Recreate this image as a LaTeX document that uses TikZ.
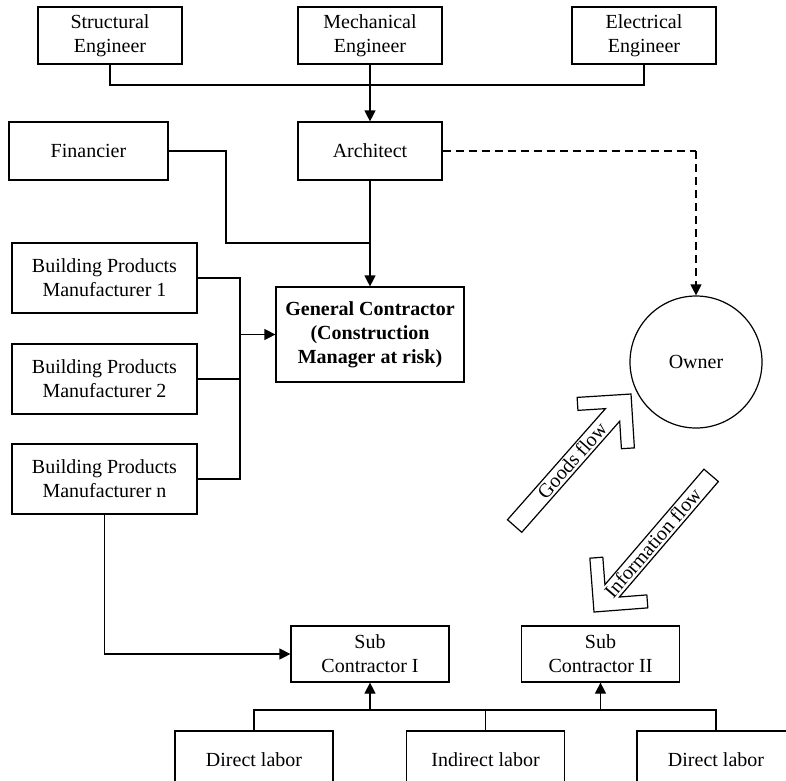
\documentclass[tikz,border=0pt]{standalone}
\usepackage{fontspec}
\setmainfont{Liberation Serif}
\usetikzlibrary{arrows.meta}
\begin{document}
\begin{tikzpicture}[x=1pt,y=-1pt,
  box/.style={draw, line width=1.2pt, inner sep=0pt, align=center, font=\fontsize{20}{24}\selectfont},
  arr/.style={line width=1.2pt, -{Triangle[length=11pt,width=11pt]}},
  ln/.style={line width=1.2pt},
  dsh/.style={line width=1.2pt, dash pattern=on 8pt off 5pt},
  blockarrow/.style={draw, line width=1.2pt, line join=miter},
  flowtext/.style={inner sep=0pt, font=\fontsize{20}{24}\selectfont, text height=13pt, text depth=0pt}]
\useasboundingbox (0,0) rectangle (786,780);
\clip (0,0) rectangle (786,780);
% top row
\node[box, minimum width=144pt, minimum height=57pt] (se) at (110,35.5) {Structural\\Engineer};
\node[box, minimum width=144pt, minimum height=57pt] (me) at (370,35.5) {Mechanical\\Engineer};
\node[box, minimum width=144pt, minimum height=57pt] (ee) at (644,35.5) {Electrical\\Engineer};
% second row
\node[box, minimum width=159pt, minimum height=58pt] (fin) at (88.5,151) {Financier};
\node[box, minimum width=144pt, minimum height=58pt] (arch) at (370,151) {Architect};
% general contractor
\node[box, minimum width=188pt, minimum height=95pt, font=\fontsize{20}{24}\selectfont\bfseries] (gc) at (370,334.5) {General Contractor\\(Construction\\Manager at risk)};
% manufacturers
\node[box, minimum width=185pt, minimum height=70pt] (bpm1) at (104.5,278) {Building Products\\Manufacturer 1};
\node[box, minimum width=185pt, minimum height=70pt] (bpm2) at (104.5,379) {Building Products\\Manufacturer 2};
\node[box, minimum width=185pt, minimum height=70pt] (bpm3) at (104.5,479) {Building Products\\Manufacturer n};
% owner
\node[draw, line width=1.2pt, circle, minimum size=132pt, inner sep=0pt, font=\fontsize{20}{24}\selectfont] (own) at (696,362) {Owner};
% sub contractors
\node[box, minimum width=158pt, minimum height=56pt] (sub1) at (370,654) {Sub\\Contractor I};
\node[box, minimum width=158pt, minimum height=56pt] (sub2) at (600.5,654) {Sub\\Contractor II};
% labor
\node[box, minimum width=158pt, minimum height=57pt] (dl1) at (254,759.5) {Direct labor};
\node[box, minimum width=158pt, minimum height=57pt] (il) at (485.5,759.5) {Indirect labor};
\node[box, minimum width=158pt, minimum height=57pt] (dl2) at (716,759.5) {Direct labor};

% connectors top
\coordinate (tb) at (370,85);
\draw[ln] (se.south) |- (tb);
\draw[ln] (ee.south) |- (tb);
\draw[arr] (me.south) -- (arch.north);
% financier
\coordinate (fj) at (226,243);
\coordinate (aj) at (370,243);
\draw[ln] (fin.east) -| (fj) -- (aj);
\draw[arr] (arch.south) -- (gc.north);
% manufacturers bus
\coordinate (bj) at (240,334.5);
\draw[ln] (bpm1.east) -| (bj);
\draw[ln] (bpm3.east) -| (bj);
\draw[ln] (bpm2.east) -- (bpm2.east -| bj);
\draw[arr] (bj) -- (gc.west);
% dashed to owner
\coordinate (dc) at (696,151);
\draw[dsh] (arch.east) -- (dc);
\draw[dsh, -{Triangle[length=11pt,width=11pt]}] (dc) -- (own.north);
% manufacturer n to sub I
\draw[arr] (bpm3.south) |- (sub1.west);
% labor bus
\coordinate (b1) at (370,710);
\coordinate (b2) at (600.5,710);
\draw[ln] (dl1.north) |- (dl2.north |- b1) -- (dl2.north);
\draw[ln] (il.north) -- (il.north |- b1);
\draw[arr] (b1) -- (sub1.south);
\draw[arr] (b2) -- (sub2.south);

% block arrows
\begin{scope}[shift={(631,394)}, rotate=48.6]
\draw[blockarrow] (0,0) -- (-38.18,38.18) -- (-47.37,28.99) -- (-27.88,9.5) -- (-176,9.5) -- (-176,-9.5) -- (-27.88,-9.5) -- (-47.37,-28.99) -- (-38.18,-38.18) -- cycle;
\end{scope}
\begin{scope}[shift={(594,612)}, rotate=229.4]
\draw[blockarrow] (0,0) -- (-38.18,38.18) -- (-47.37,28.99) -- (-27.88,9.5) -- (-180,9.5) -- (-180,-9.5) -- (-27.88,-9.5) -- (-47.37,-28.99) -- (-38.18,-38.18) -- cycle;
\end{scope}
\node[flowtext, rotate=48.6] (gf) at (572.2,460.8) {Goods flow};
\node[flowtext, rotate=49.4] (inf) at (653,543.2) {Information flow};
\end{tikzpicture}
\end{document}
